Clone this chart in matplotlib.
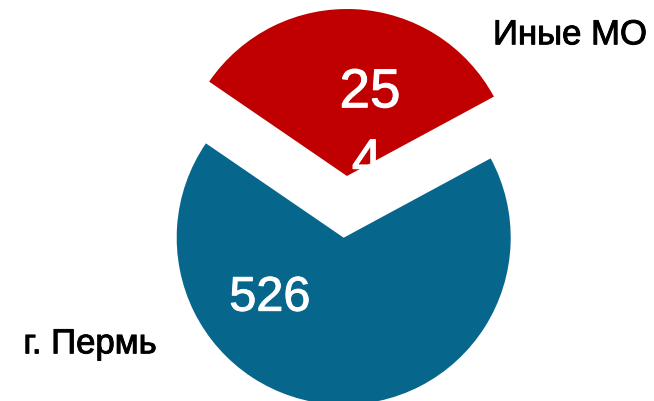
import matplotlib
matplotlib.use("Agg")
import matplotlib.pyplot as plt
import matplotlib.patheffects as pe

plt.rcParams['font.family'] = ['Liberation Sans', 'DejaVu Sans']

categories = ["г. Пермь", "Иные МО"]
values = [526, 254]
colors = ["#06668C", "#C00000"]
explode = [0, 0.37]

fig = plt.figure(figsize=(6.54, 4.01), dpi=100)
ax = fig.add_axes([0, 0, 1, 1])
ax.pie(values, colors=colors, explode=explode, startangle=145.6,
       counterclock=True, radius=1.0, wedgeprops=dict(linewidth=0))
ax.set_aspect('auto')
R = 167.0
cx, cy = 343.7, 237.7
ax.set_xlim(-cx / R, (654 - cx) / R)
ax.set_ylim(-(401 - cy) / R, cy / R)
ax.axis('off')

def P(px, py):
    return (px - cx) / R, (cy - py) / R

def thick(c):
    return [pe.withStroke(linewidth=0.7, foreground=c)]

# value labels
x, y = P(270, 310.7)
ax.text(x, y, str(values[0]), color='white', fontsize=35, ha='center', va='baseline',
        path_effects=thick('white'))
s = str(values[1])
x, y = P(370, 107.3)
ax.text(x, y, s[:2], color='white', fontsize=39.5, ha='center', va='baseline',
        path_effects=thick('white'))
x, y = P(367, 177.3)
ax.text(x, y, s[2:], color='white', fontsize=39.5, ha='center', va='baseline',
        path_effects=thick('white'))

# category labels
x, y = P(570, 44.3)
ax.text(x, y, categories[1], color='black', fontsize=25, ha='center', va='baseline',
        path_effects=thick('black'))
x, y = P(90, 353.3)
ax.text(x, y, categories[0], color='black', fontsize=25, ha='center', va='baseline',
        path_effects=thick('black'))

fig.savefig("out.png", dpi=100)
